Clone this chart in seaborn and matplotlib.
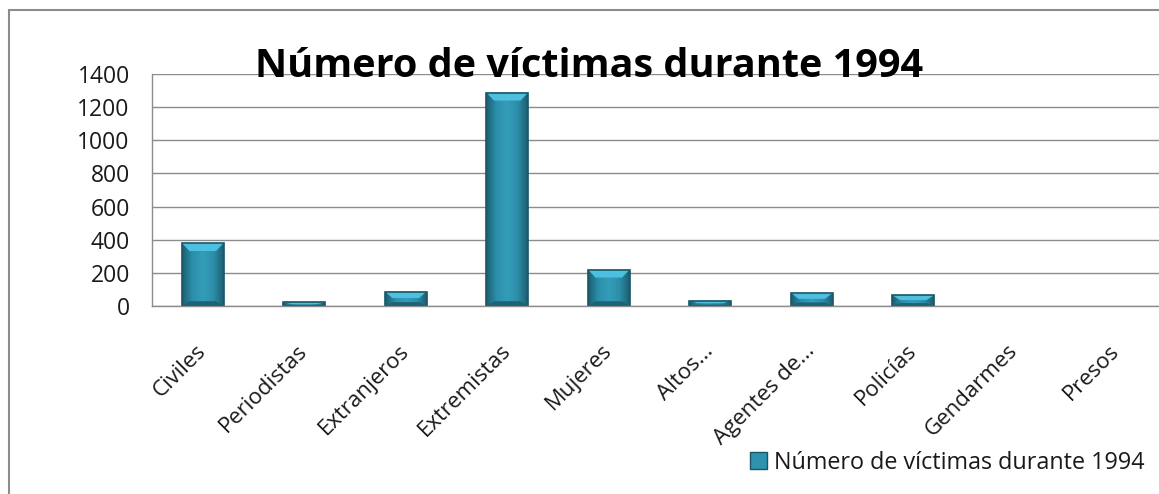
import numpy as np
import pandas as pd
import seaborn as sns
import matplotlib.pyplot as plt
from matplotlib.patches import Rectangle, Patch, Polygon

# datos
categorias = ["Civiles", "Periodistas", "Extranjeros", "Extremistas", "Mujeres",
              "Altos...", "Agentes de...", "Policías", "Gendarmes", "Presos"]
victimas = [380, 22, 87, 1288, 220, 32, 79, 65, 0, 0]
serie = "Número de víctimas durante 1994"
yticks = [0, 200, 400, 600, 800, 1000, 1200, 1400]

df = pd.DataFrame({"categoria": categorias, "victimas": victimas})

sns.set_style("white")
plt.rcParams["font.family"] = ["Open Sans", "DejaVu Sans"]

W, H = 1159, 494
fig = plt.figure(figsize=(W / 100, H / 100), dpi=100)
ax = fig.add_axes([152 / W, (H - 306) / H, 1015 / W, 232 / H])

sns.barplot(data=df, x="categoria", y="victimas", ax=ax, color="#2A8BA5",
            width=0.41, linewidth=0, saturation=1)

# efecto de relieve en las barras
grad = np.linspace(0, 1, 64)
grad = 1 - np.abs(grad - 0.5) * 2
cmap = sns.blend_palette(["#1C5E71", "#2C8FAA", "#339CB8"], as_cmap=True)
px = 1400 / 232  # unidades de datos por pixel
for p in list(ax.patches):
    x0, y0 = p.get_x(), p.get_y()
    w, h = p.get_width(), p.get_height()
    if h <= 0:
        continue
    z = p.get_zorder()
    im = ax.imshow(grad[None, :], extent=[x0, x0 + w, y0, y0 + h], aspect="auto",
                   cmap=cmap, zorder=z + 0.1)
    im.set_clip_path(p)
    d = min(8 * px, h * 0.45)
    dx = w * 0.18
    ax.add_patch(Polygon([(x0, y0 + h), (x0 + w, y0 + h), (x0 + w - dx, y0 + h - d),
                          (x0 + dx, y0 + h - d)], closed=True,
                         facecolor="#4EC0DF", edgecolor="none", zorder=z + 0.2))
    ax.add_patch(Polygon([(x0, y0), (x0 + w, y0), (x0 + w - dx, y0 + d * 0.6),
                          (x0 + dx, y0 + d * 0.6)], closed=True,
                         facecolor="#1E6275", edgecolor="none", zorder=z + 0.2))
    ax.add_patch(Rectangle((x0, y0), w, h, facecolor="none", edgecolor="#1B5667",
                           linewidth=1.2, zorder=z + 0.3))

ax.set_ylim(0, 1400)
ax.set_xlim(-0.5, len(categorias) - 0.5)
ax.set_yticks(yticks)
ax.set_yticklabels([str(v) for v in yticks], fontsize=16.5, color="#1a1a1a")
ax.yaxis.grid(True, color="#8c8c8c", linewidth=1)
ax.set_axisbelow(True)
ax.set_xlabel("")
ax.set_ylabel("")

ax.set_xticks(range(len(categorias)))
ax.set_xticklabels(categorias, rotation=45, ha="right", va="center",
                   rotation_mode="anchor", fontsize=16, color="#1a1a1a")
ax.tick_params(axis="x", which="major", length=0, pad=30)
ax.set_xticks(np.arange(-0.5, len(categorias), 1), minor=True)
ax.tick_params(axis="x", which="minor", length=8, color="#8c8c8c", width=1,
               direction="out")
ax.tick_params(axis="y", length=8, color="#8c8c8c", width=1, direction="out", pad=8)

for s in ["top", "right"]:
    ax.spines[s].set_visible(False)
for s in ["left", "bottom"]:
    ax.spines[s].set_color("#8c8c8c")
    ax.spines[s].set_linewidth(1)

fig.text(589 / W, (H - 77) / H, serie, ha="center", va="baseline",
         fontsize=28.5, fontweight="bold", color="black")

handle = Patch(facecolor="#2E93AE", edgecolor="#1B5667", linewidth=1)
fig.legend([handle], [serie], loc="lower right",
           bbox_to_anchor=(1166 / W, (H - 496) / H), frameon=False,
           fontsize=16.8, handlelength=0.75, handleheight=0.75, handletextpad=0.3,
           labelcolor="#1a1a1a")

# marco exterior del grafico
fig.patches.append(Rectangle((9 / W, -0.1), 1.2, (H - 10) / H + 0.1,
                             transform=fig.transFigure, fill=False,
                             edgecolor="#8c8c8c", linewidth=1.5))

fig.savefig("out.png", dpi=100)
